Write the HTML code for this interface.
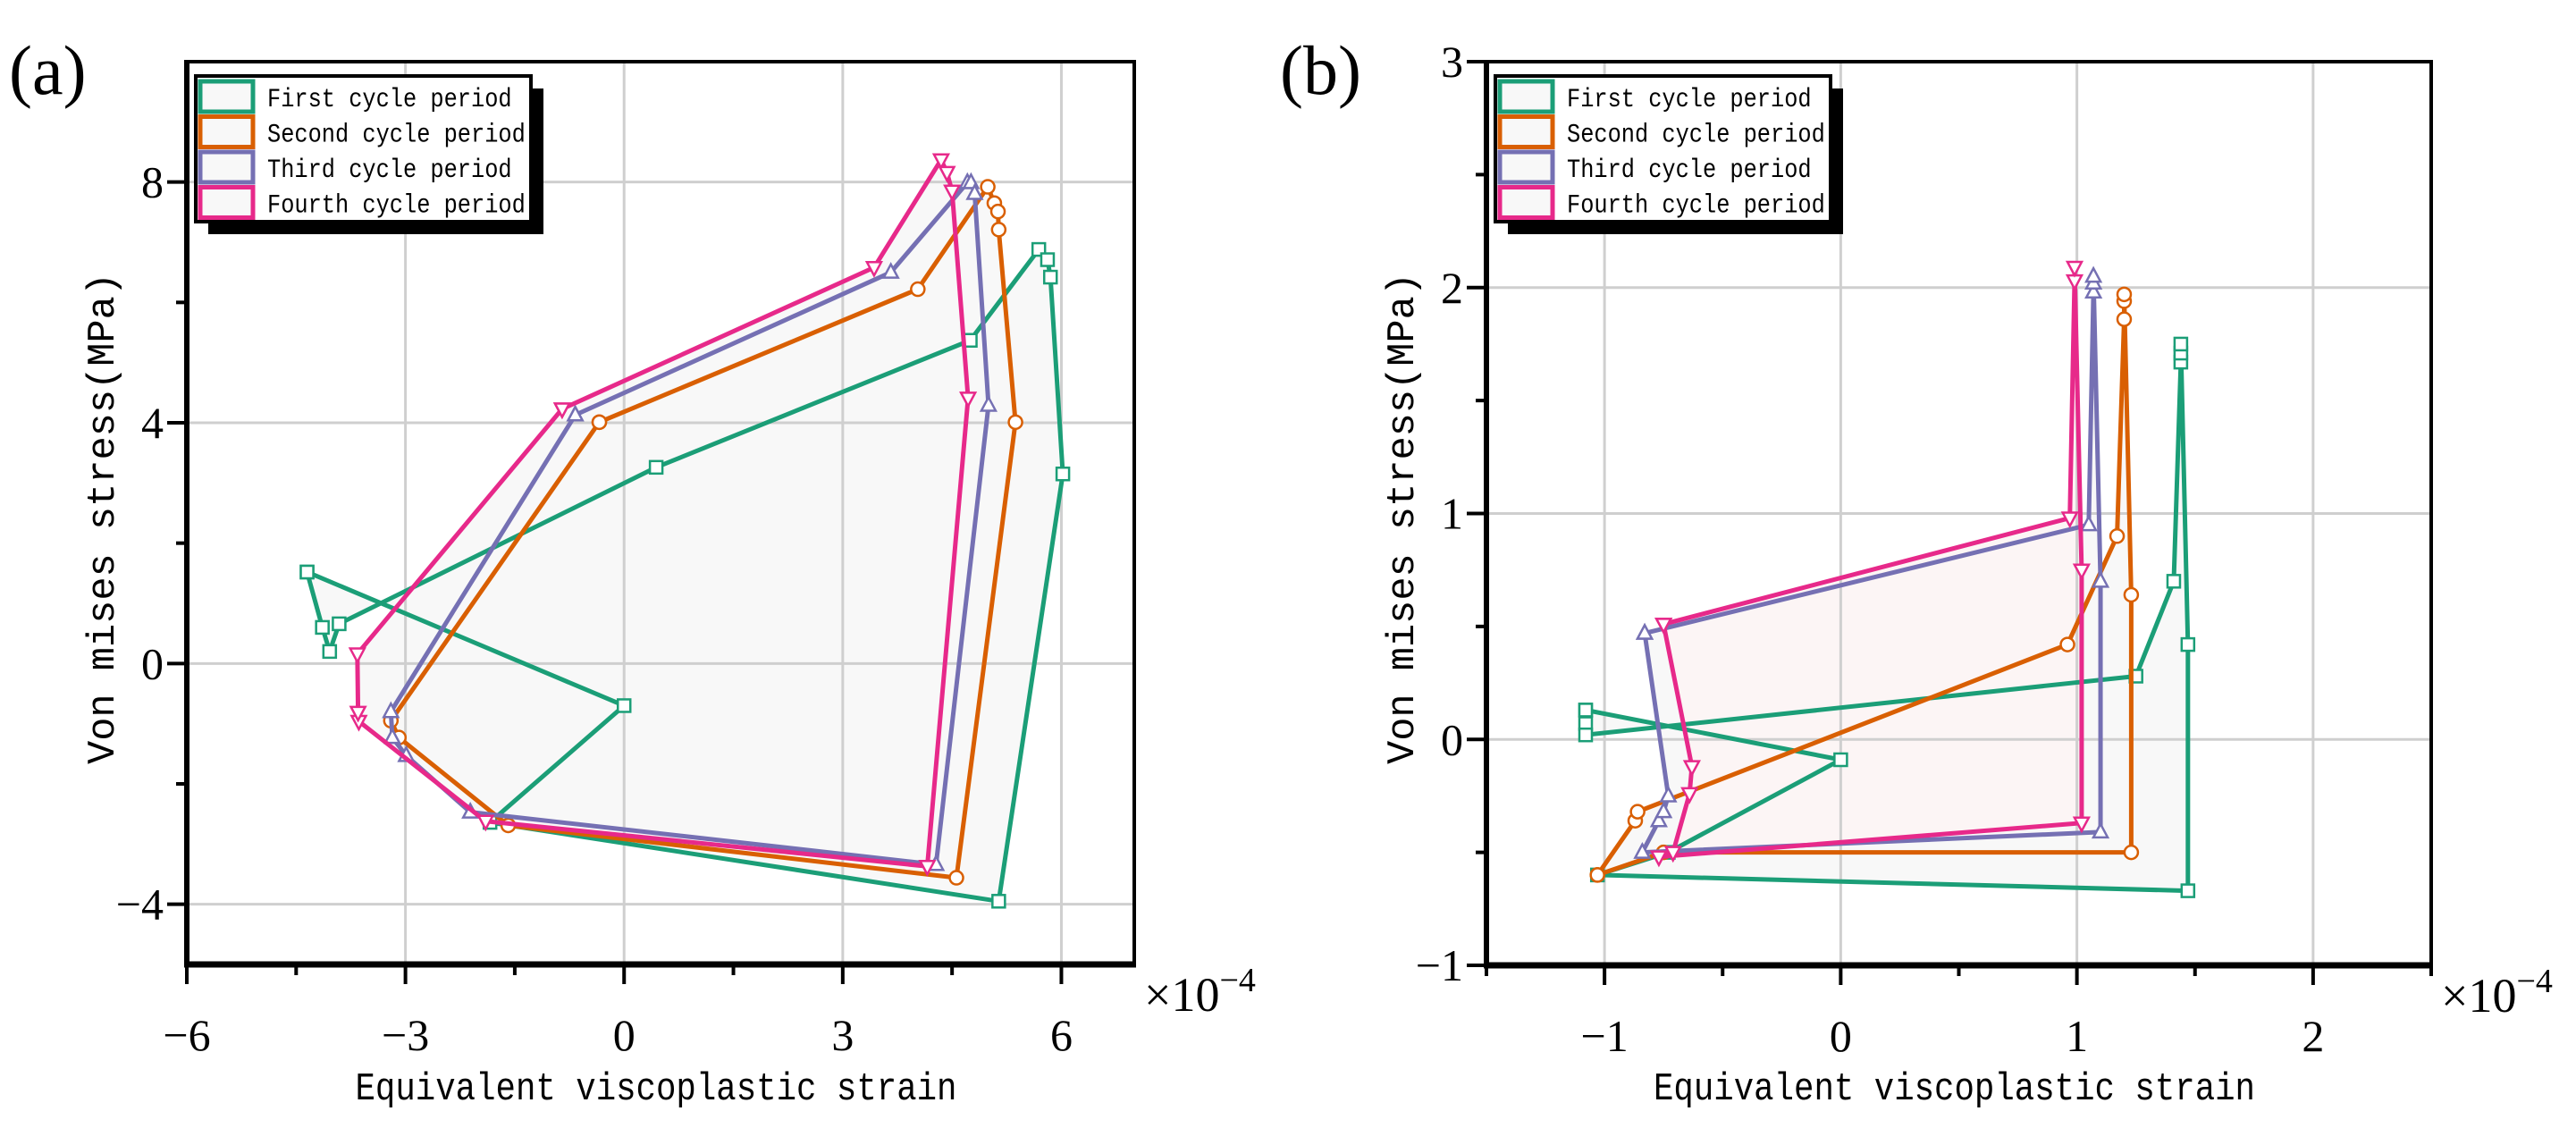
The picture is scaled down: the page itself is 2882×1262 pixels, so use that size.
<!DOCTYPE html>
<html><head><meta charset="utf-8"><style>
html,body{margin:0;padding:0;background:#fff;}
svg{display:block;}
text{font-family:"Liberation Serif",serif;fill:#000;}
.mono{font-family:"Liberation Mono",monospace;}
</style></head><body>
<svg id="fig" width="2882" height="1262" viewBox="0 0 2882 1262" xmlns="http://www.w3.org/2000/svg">
<rect x="0" y="0" width="2882" height="1262" fill="#fff"/>
</svg>
<script>
// ---- Panel (a) data ----
const seriesNames = ["First cycle period","Second cycle period","Third cycle period","Fourth cycle period"];
const aXTicks = [-6,-3,0,3,6];
const aYTicks = [-4,0,4,8];
const aFirstX  = [-4.35,-4.14,-4.04,-3.91,0.44,4.75,5.69,5.81,5.85,6.02,5.14,-1.84,0,-4.35];
const aFirstY  = [1.52,0.60,0.20,0.66,3.26,5.37,6.88,6.71,6.42,3.15,-3.95,-2.64,-0.70,1.52];
const aSecondX = [-0.34,4.03,4.99,5.08,5.13,5.14,5.37,4.56,-1.59,-3.09,-3.2,-0.34];
const aSecondY = [4.01,6.22,7.92,7.65,7.51,7.21,4.01,-3.56,-2.69,-1.23,-0.95,4.01];
const aThirdX  = [-0.67,3.66,4.71,4.76,4.81,5.0,4.28,-2.11,-2.99,-3.18,-3.2,-0.67];
const aThirdY  = [4.13,6.50,7.99,7.99,7.81,4.29,-3.34,-2.47,-1.53,-1.23,-0.80,4.13];
const aFourthX = [-0.85,3.43,4.35,4.43,4.50,4.72,4.16,-1.90,-3.64,-3.65,-3.66,-0.85];
const aFourthY = [4.23,6.58,8.37,8.16,7.85,4.41,-3.37,-2.62,-0.96,-0.81,0.16,4.23];
// ---- Panel (b) data ----
const bXTicks = [-1,0,1,2];
const bYTicks = [-1,0,1,2,3];
const bFirstX  = [-1.08,-1.08,-1.08,1.25,1.41,1.44,1.44,1.44,1.47,1.47,-1.03,-0.73,0,-1.08];
const bFirstY  = [0.13,0.07,0.02,0.28,0.70,1.67,1.71,1.75,0.42,-0.67,-0.60,-0.50,-0.09,0.13];
const bSecondX = [-1.03,-0.87,-0.86,0.96,1.17,1.20,1.20,1.20,1.23,1.23,-0.75,-1.03];
const bSecondY = [-0.60,-0.36,-0.32,0.42,0.90,1.86,1.94,1.97,0.64,-0.50,-0.50,-0.60];
const bThirdX  = [-0.83,1.05,1.07,1.07,1.07,1.10,1.10,-0.84,-0.77,-0.75,-0.73,-0.83];
const bThirdY  = [0.47,0.95,1.98,2.02,2.05,0.70,-0.41,-0.50,-0.36,-0.32,-0.25,0.47];
const bFourthX = [-0.75,0.97,0.99,0.99,1.02,1.02,-0.77,-0.71,-0.64,-0.63,-0.75];
const bFourthY = [0.51,0.98,2.03,2.09,0.75,-0.37,-0.52,-0.50,-0.24,-0.12,0.51];

const colors = ["#1b9e77","#d95f02","#7570b3","#e7298a"];
const markers = ["square","circle","tri-up","tri-down"];
const NS = "http://www.w3.org/2000/svg";
const svg = document.getElementById("fig");
function mk(tag, attrs, parent){
  const e = document.createElementNS(NS, tag);
  for (const k in attrs) e.setAttribute(k, attrs[k]);
  (parent||svg).appendChild(e);
  return e;
}
function txt(s, attrs, parent){ const t = mk("text", attrs, parent); t.textContent = s; return t; }

function drawPanel(p){
  const g = mk("g", {});
  
  
  const sx = v => p.x0 + (v - p.xmin) / (p.xmax - p.xmin) * (p.x1 - p.x0);
  const sy = v => p.y1 - (v - p.ymin) / (p.ymax - p.ymin) * (p.y1 - p.y0);
  // fills (solid, so overlaps don't darken)
  p.series.forEach((s, i) => {
    const pts = s.x.map((xv, j) => sx(xv) + "," + sy(s.y[j])).join(" ");
    const f = mk("polygon", {points:pts, fill: i===3 && p.pinkFill ? "#fcf5f5" : "#f8f8f8", stroke:"none"}, g);
    
    
  });
  // gridlines
  p.xTicks.forEach(v => {
    const l = mk("line", {x1:sx(v), x2:sx(v), y1:p.y0, y2:p.y1, stroke:"#cfcfcf", "stroke-width":3}, g);
    
    
  });
  p.yTicks.forEach(v => {
    if (v === p.ymin || v === p.ymax) return;
    const l = mk("line", {x1:p.x0, x2:p.x1, y1:sy(v), y2:sy(v), stroke:"#cfcfcf", "stroke-width":3}, g);
    
    
  });
  // lines and markers
  p.series.forEach((s, i) => {
    const pts = s.x.map((xv, j) => sx(xv) + "," + sy(s.y[j])).join(" ");
    const pl = mk("polyline", {points:pts, fill:"none", stroke:colors[i], "stroke-width":5, "stroke-linejoin":"round"}, g);
    
    
    s.x.forEach((xv, j) => {
      const cx = sx(xv), cy = sy(s.y[j]); let m;
      const st = {fill:"#fff", stroke:colors[i], "stroke-width":2.5};
      if (markers[i]==="square") m = mk("rect", Object.assign({x:cx-7, y:cy-7, width:14, height:14}, st), g);
      else if (markers[i]==="circle") m = mk("circle", Object.assign({cx:cx, cy:cy, r:7.5}, st), g);
      else if (markers[i]==="tri-up") m = mk("polygon", Object.assign({points:`${cx},${cy-9} ${cx-8},${cy+6} ${cx+8},${cy+6}`}, st), g);
      else m = mk("polygon", Object.assign({points:`${cx},${cy+9} ${cx-8},${cy-6} ${cx+8},${cy-6}`}, st), g);
      
      
    });
  });
  // frame
  const fr = mk("path", {d:`M${p.x0},${p.y0} H${p.x1} V${p.y1}`, fill:"none", stroke:"#000", "stroke-width":4}, g);
  
  
  const xa = mk("line", {x1:p.x0-3, x2:p.x1+2, y1:p.y1, y2:p.y1, stroke:"#000", "stroke-width":7}, g);
  
  
  const ya = mk("line", {x1:p.x0, x2:p.x0, y1:p.y0-2, y2:p.y1+3, stroke:"#000", "stroke-width":6}, g);
  
  
  // x ticks
  const xs = p.xTicks[1]-p.xTicks[0];
  for (let v = p.xTicks[0]-xs; v <= p.xmax+1e-9; v += xs/2) {
    if (v < p.xmin-1e-9) continue;
    const major = p.xTicks.some(t => Math.abs(t-v)<1e-9);
    const tk = mk("line", {x1:sx(v), x2:sx(v), y1:p.y1, y2:p.y1+(major?22:12), stroke:"#000", "stroke-width":4}, g);
    
    
  }
  p.xTicks.forEach(v => {
    const t = txt(v<0 ? "\u2212"+Math.abs(v) : String(v), {x:sx(v), y:p.y1+96, "font-size":50, "text-anchor":"middle"}, g);
    
    
  });
  // y ticks
  const ys = p.yTicks[1]-p.yTicks[0];
  for (let v = p.yTicks[0]; v <= p.ymax+1e-9; v += ys/2) {
    const major = p.yTicks.some(t => Math.abs(t-v)<1e-9);
    if (v>=p.ymax-1e-9 && !major) continue;
    const tk = mk("line", {x1:p.x0, x2:p.x0-(major?22:12), y1:sy(v), y2:sy(v), stroke:"#000", "stroke-width":4}, g);
    
    
  }
  p.yTicks.forEach(v => {
    const t = txt(v<0 ? "\u2212"+Math.abs(v) : String(v), {x:p.x0-26, y:sy(v)+17, "font-size":50, "text-anchor":"end"}, g);
    
    
  });
  // axis titles
  const xt = txt("Equivalent viscoplastic strain", {x:(p.x0+p.x1)/2 - 5, y:1230, "font-size":44, "text-anchor":"middle", textLength:673, lengthAdjust:"spacingAndGlyphs", class:"mono"}, g);
  
  
  const yt = txt("Von mises stress(MPa)", {x:0, y:0, "font-size":44, "text-anchor":"middle", textLength:550, lengthAdjust:"spacingAndGlyphs", class:"mono", transform:`translate(${p.x0-82},580) rotate(-90)`}, g);
  
  
  // multiplier
  const mt = txt("\u00d710", {x:p.x1+11, y:p.y1+52, "font-size":54}, g);
  
  
  const ms = mk("tspan", {dy:-22, "font-size":38}, mt); ms.textContent = "\u22124";
  // panel label
  const pl = txt(p.label, {x:p.labelX, y:105, "font-size":78}, g);
  
  
  // legend
  const lx = p.x0 + 10, ly = 85, lw = 375, lh = 163;
  const lg = mk("g", {}, g);
  
  
  mk("rect", {x:lx+14, y:ly+14, width:lw, height:lh, fill:"#000"}, lg);
  mk("rect", {x:lx, y:ly, width:lw, height:lh, fill:"#fff", stroke:"#000", "stroke-width":4}, lg);
  seriesNames.forEach((n, i) => {
    const ry = ly + 4 + i*39.5;
    const sw = mk("rect", {x:lx+5, y:ry+2, width:59, height:34, fill:"#f8f8f8", stroke:colors[i], "stroke-width":5}, lg);
    
    
    const t = txt(n, {x:lx+80, y:ry+30, "font-size":30, class:"mono", textLength: n.length*15.2, lengthAdjust:"spacingAndGlyphs"}, lg);
    
    
  });
}

drawPanel({id:"a", label:"(a)", labelX:10, x0:209, x1:1269, y0:69, y1:1079, xmin:-6, xmax:7, ymin:-5, ymax:10,
  xTicks:aXTicks, yTicks:aYTicks, pinkFill:false,
  series:[{x:aFirstX,y:aFirstY},{x:aSecondX,y:aSecondY},{x:aThirdX,y:aThirdY},{x:aFourthX,y:aFourthY}]});
drawPanel({id:"b", label:"(b)", labelX:1432, x0:1663, x1:2720, y0:69, y1:1080, xmin:-1.5, xmax:2.5, ymin:-1, ymax:3,
  xTicks:bXTicks, yTicks:bYTicks, pinkFill:true,
  series:[{x:bFirstX,y:bFirstY},{x:bSecondX,y:bSecondY},{x:bThirdX,y:bThirdY},{x:bFourthX,y:bFourthY}]});
</script>
</body></html>
